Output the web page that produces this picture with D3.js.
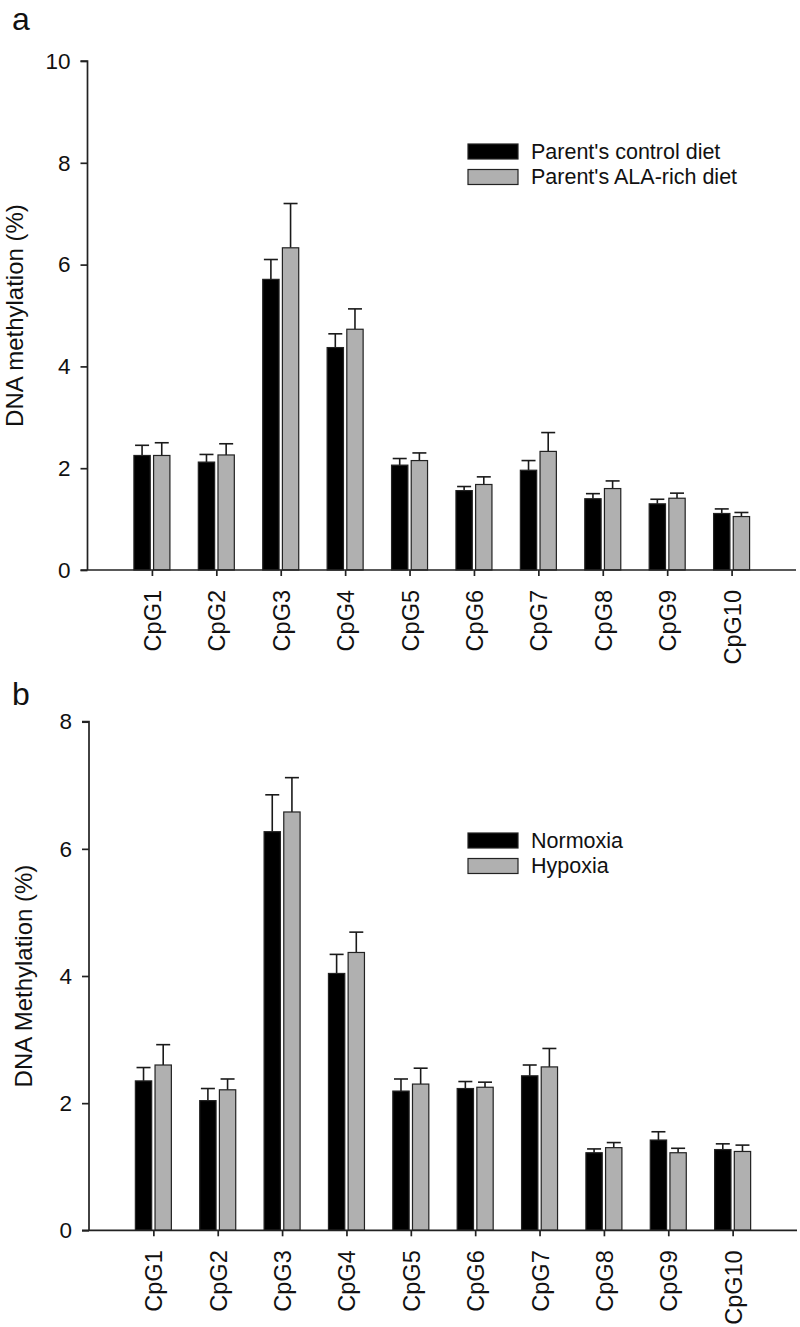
<!DOCTYPE html>
<html>
<head>
<meta charset="utf-8">
<script src="https://cdn.jsdelivr.net/npm/d3@7"></script>
<style>
  html, body { margin: 0; padding: 0; background: #fff; }
  svg { display: block; }
  text { font-family: "Liberation Sans", Arial, Helvetica, sans-serif; fill: #111; }
</style>
</head>
<body>
<svg id="chart" width="800" height="1327"></svg>
<script>
// ---------- data ----------
const categories = ["CpG1","CpG2","CpG3","CpG4","CpG5","CpG6","CpG7","CpG8","CpG9","CpG10"];

// Panel a
const aSeriesNames = ["Parent's control diet", "Parent's ALA-rich diet"];
const aControlMean = [2.25, 2.12, 5.71, 4.37, 2.06, 1.56, 1.96, 1.40, 1.30, 1.11];
const aControlErr  = [0.20, 0.15, 0.39, 0.27, 0.13, 0.08, 0.19, 0.10, 0.09, 0.09];
const aAlaMean     = [2.25, 2.26, 6.33, 4.73, 2.15, 1.68, 2.33, 1.60, 1.41, 1.05];
const aAlaErr      = [0.25, 0.22, 0.87, 0.40, 0.15, 0.15, 0.37, 0.15, 0.10, 0.08];
const aTicks = [0, 2, 4, 6, 8, 10];

// Panel b
const bSeriesNames = ["Normoxia", "Hypoxia"];
const bNormoxiaMean = [2.35, 2.04, 6.27, 4.04, 2.19, 2.23, 2.43, 1.22, 1.42, 1.27];
const bNormoxiaErr  = [0.21, 0.19, 0.58, 0.30, 0.19, 0.11, 0.17, 0.06, 0.13, 0.09];
const bHypoxiaMean  = [2.60, 2.21, 6.58, 4.37, 2.30, 2.25, 2.57, 1.30, 1.22, 1.24];
const bHypoxiaErr   = [0.32, 0.17, 0.54, 0.32, 0.25, 0.08, 0.29, 0.08, 0.07, 0.10];
const bTicks = [0, 2, 4, 6, 8];

// ---------- drawing ----------
const svg = d3.select("#chart");
const colors = ["#000000", "#b0b0b0"];
const axisColor = "#222";
const FONT = '"Liberation Sans", Arial, sans-serif';

function drawPanel(cfg) {
  const g = svg.append("g");
  const x = d3.scalePoint().domain(categories).range([cfg.left, cfg.right]).padding(1);
  const y = d3.scaleLinear().domain([0, cfg.yMax]).range([cfg.bottom, cfg.top]);
  const sub = d3.scaleBand().domain([0, 1]).range([-18, 18]).paddingInner(0.17);

  const rows = [];
  categories.forEach((c, i) => {
    cfg.means.forEach((m, s) => rows.push({ cat: c, s: s, mean: m[i], err: cfg.errs[s][i] }));
  });

  // error bars (upper only)
  const eb = g.append("g").attr("stroke", "#1a1a1a").attr("stroke-width", 1.6).attr("fill", "none");
  rows.forEach(d => {
    const cx = x(d.cat) + sub(d.s) + sub.bandwidth() / 2;
    eb.append("line").attr("x1", cx).attr("x2", cx).attr("y1", y(d.mean)).attr("y2", y(d.mean + d.err));
    eb.append("line").attr("x1", cx - 7).attr("x2", cx + 7).attr("y1", y(d.mean + d.err)).attr("y2", y(d.mean + d.err));
  });

  // bars
  g.append("g").selectAll("rect").data(rows).join("rect")
    .attr("x", d => x(d.cat) + sub(d.s))
    .attr("width", sub.bandwidth())
    .attr("y", d => y(d.mean))
    .attr("height", d => y(0) - y(d.mean))
    .attr("fill", d => colors[d.s])
    .attr("stroke", "#222")
    .attr("stroke-width", 1.2);

  // y axis
  const yAxis = d3.axisLeft(y).tickValues(cfg.ticks).tickSize(7).tickPadding(10).tickFormat(d3.format("d"));
  const ya = g.append("g").attr("transform", `translate(${cfg.left},0)`).call(yAxis);
  ya.select(".domain").attr("stroke", axisColor).attr("stroke-width", 1.7).attr("d", `M-7,${cfg.top}H0V${cfg.bottom}`);
  ya.selectAll(".tick line").attr("stroke", axisColor).attr("stroke-width", 1.7);
  ya.selectAll(".tick text").attr("font-size", 22.5).attr("fill", "#111").style("font-family", FONT);

  // x axis
  const xAxis = d3.axisBottom(x).tickSize(6).tickFormat(() => "");
  const xa = g.append("g").attr("transform", `translate(0,${cfg.bottom})`).call(xAxis);
  xa.select(".domain").attr("stroke", axisColor).attr("stroke-width", 1.7).attr("d", `M${cfg.left - 7},0H${cfg.right}`);
  xa.selectAll(".tick line").attr("stroke", axisColor).attr("stroke-width", 1.7);
  xa.selectAll(".tick").append("text")
    .attr("transform", "translate(8.5,20) rotate(-90)")
    .attr("text-anchor", "end")
    .attr("font-size", 23.5)
    .attr("fill", "#111")
    .style("font-family", FONT)
    .text(d => d);

  // y title
  g.append("text")
    .attr("transform", `translate(${cfg.titleX},${(cfg.top + cfg.bottom) / 2}) rotate(-90)`)
    .attr("text-anchor", "middle")
    .attr("font-size", 24)
    .text(cfg.yTitle);

  // panel letter
  g.append("text").attr("x", 12).attr("y", cfg.letterY).attr("font-size", 32).text(cfg.letter);

  // legend
  const lg = g.append("g");
  cfg.names.forEach((n, i) => {
    lg.append("rect").attr("x", 468).attr("y", cfg.legendY + i * 25.5).attr("width", 50).attr("height", 15)
      .attr("fill", colors[i]).attr("stroke", "#222").attr("stroke-width", 1.2);
    lg.append("text").attr("x", 531).attr("y", cfg.legendY + i * 25.5 + 14.5).attr("font-size", 21.5).text(n);
  });
}

drawPanel({
  left: 87.5, right: 796, top: 61, bottom: 570, yMax: 10, ticks: aTicks,
  means: [aControlMean, aAlaMean], errs: [aControlErr, aAlaErr], names: aSeriesNames,
  yTitle: "DNA methylation (%)", titleX: 22.5, letter: "a", letterY: 30, legendY: 144
});
drawPanel({
  left: 89, right: 797, top: 721.7, bottom: 1230.3, yMax: 8, ticks: bTicks,
  means: [bNormoxiaMean, bHypoxiaMean], errs: [bNormoxiaErr, bHypoxiaErr], names: bSeriesNames,
  yTitle: "DNA Methylation (%)", titleX: 32, letter: "b", letterY: 705, legendY: 833
});
</script>
</body>
</html>
